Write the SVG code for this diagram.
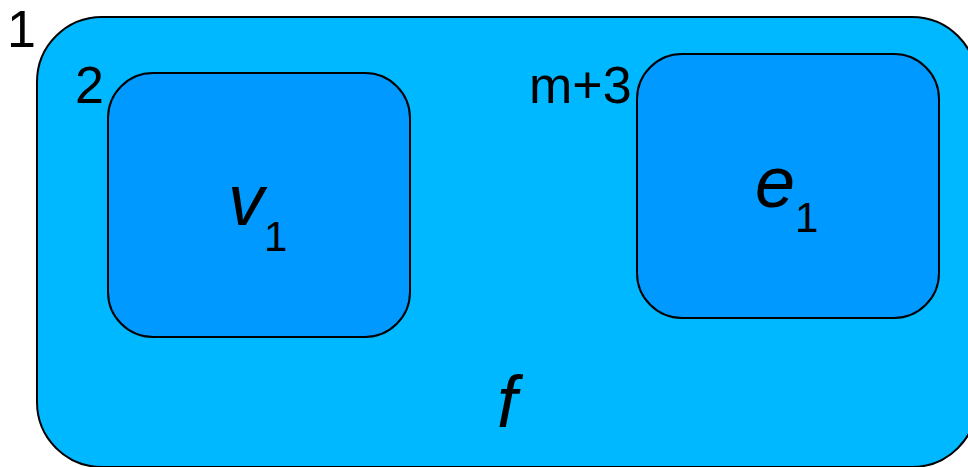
<svg xmlns="http://www.w3.org/2000/svg" width="968" height="467" viewBox="0 0 968 467">
<style>
.outer{fill:#00b8ff;stroke:#000;stroke-width:2}
.inner{fill:#0099ff;stroke:#000;stroke-width:2}
.lbl{font-family:"Liberation Sans",Arial,sans-serif;font-size:52px;fill:#000}
.big{font-family:"Liberation Sans",Arial,sans-serif;font-size:72px;font-style:italic;fill:#000}
.sub{font-family:"Liberation Sans",Arial,sans-serif;font-size:42px;fill:#000}
</style>
<g id="face-f">
<rect class="outer" x="37" y="17" width="940" height="450" rx="65" ry="65"/>
<text class="lbl" x="7" y="47">1</text>
<text class="big" x="497" y="427">f</text>
</g>
<g id="node-v1">
<rect class="inner" x="108" y="73" width="302" height="264" rx="45" ry="45"/>
<text class="lbl" x="75" y="103">2</text>
<text class="big" x="228" y="225">v</text>
<text class="sub" x="264" y="251">1</text>
</g>
<g id="node-e1">
<rect class="inner" x="637" y="54" width="302" height="264" rx="45" ry="45"/>
<text class="lbl" x="529" y="103">m+3</text>
<text class="big" x="755" y="207">e</text>
<text class="sub" x="795" y="232">1</text>
</g>
<g id="connectors"></g>
</svg>
